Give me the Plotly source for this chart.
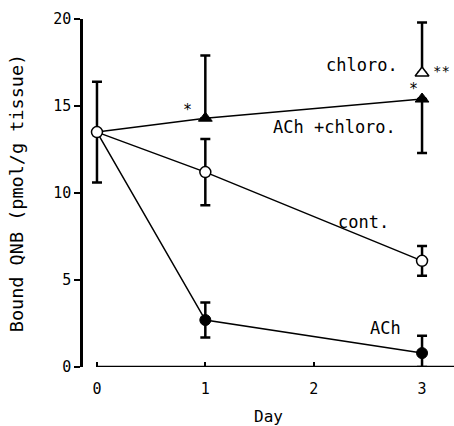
import plotly.graph_objects as go

days = [0, 1, 3]
cont_y = [13.5, 11.2, 6.1]
cont_err = [2.9, 1.9, 0.85]
ach_y = [13.5, 2.7, 0.8]
ach_err_plus = [0, 1.0, 1.0]
ach_err_minus = [0, 1.0, 0.8]
achchl_y = [13.5, 14.3, 15.4]
achchl_err_plus = [0, 3.6, 0]
achchl_err_minus = [0, 0, 3.1]
chl_x = [3]
chl_y = [16.9]
chl_err_plus = [2.9]

FONT = "DejaVu Sans Mono"
BLACK = "black"

fig = go.Figure()

line = dict(color=BLACK, width=1.5)
err_common = dict(color=BLACK, thickness=2.5, width=5)

# lines
for ys in [achchl_y, cont_y, ach_y]:
    fig.add_trace(go.Scatter(x=days, y=ys, mode="lines", line=line, showlegend=False, hoverinfo="skip"))

# ACh + chloro (filled triangles)
fig.add_trace(go.Scatter(
    x=days[1:], y=achchl_y[1:], mode="markers",
    marker=dict(symbol="triangle-up", size=12, color=BLACK, line=dict(color=BLACK, width=1)),
    error_y=dict(type="data", symmetric=False, array=achchl_err_plus[1:], arrayminus=achchl_err_minus[1:], **err_common),
    showlegend=False, cliponaxis=False))

# chloro (open triangle)
fig.add_trace(go.Scatter(
    x=chl_x, y=chl_y, mode="markers",
    marker=dict(symbol="triangle-up", size=12, color="white", line=dict(color=BLACK, width=1.5)),
    error_y=dict(type="data", symmetric=False, array=chl_err_plus, arrayminus=[0], **err_common),
    showlegend=False, cliponaxis=False))

# ACh (filled circles)
fig.add_trace(go.Scatter(
    x=days[1:], y=ach_y[1:], mode="markers",
    marker=dict(symbol="circle", size=11, color=BLACK, line=dict(color=BLACK, width=1)),
    error_y=dict(type="data", symmetric=False, array=ach_err_plus[1:], arrayminus=ach_err_minus[1:], **err_common),
    showlegend=False, cliponaxis=False))

# control (open circles)
fig.add_trace(go.Scatter(
    x=days, y=cont_y, mode="markers",
    marker=dict(symbol="circle", size=11, color="white", line=dict(color=BLACK, width=1.5)),
    error_y=dict(type="data", array=cont_err, **err_common),
    showlegend=False, cliponaxis=False))

# x axis baseline
fig.add_shape(type="line", xref="x", yref="y", x0=0, x1=3.3, y0=0, y1=0,
              line=dict(color=BLACK, width=2.5))

labels = [
    ("chloro.", 2.45, 17.36, 17),
    ("ACh +chloro.", 2.19, 13.8, 17),
    ("cont.", 2.46, 8.33, 17),
    ("ACh", 2.66, 2.24, 17),
    ("*", 0.84, 14.75, 15),
    ("*", 2.92, 15.95, 15),
    ("**", 3.18, 17.0, 14),
]
for t, x, y, s in labels:
    fig.add_annotation(x=x, y=y, text=t, showarrow=False, xref="x", yref="y",
                       font=dict(family=FONT, size=s, color=BLACK))

fig.update_layout(
    width=454, height=426,
    margin=dict(l=83, r=0, t=19, b=59),
    paper_bgcolor="white", plot_bgcolor="white",
    font=dict(family=FONT, size=15, color=BLACK),
    xaxis=dict(range=[-0.129, 3.295], tickvals=[0, 1, 2, 3], ticktext=["0", "1", "2", "3"],
               showgrid=False, zeroline=False, showline=False, automargin=False,
               ticks="inside", ticklen=5, tickwidth=2, tickcolor=BLACK, ticklabelstandoff=11,
               title=dict(text="Day", font=dict(family=FONT, size=16), standoff=18)),
    yaxis=dict(range=[0, 20], tickvals=[0, 5, 10, 15, 20],
               showgrid=False, zeroline=False, showline=True, linecolor=BLACK, linewidth=2.5,
               ticks="outside", ticklen=6, tickwidth=2, tickcolor=BLACK, automargin=False,
               title=dict(text="Bound QNB (pmol/g tissue)", font=dict(family=FONT, size=18.5), standoff=25)),
)

fig.write_html("out.html", config={"displayModeBar": False},
               post_script="document.body.style.margin='0';")
